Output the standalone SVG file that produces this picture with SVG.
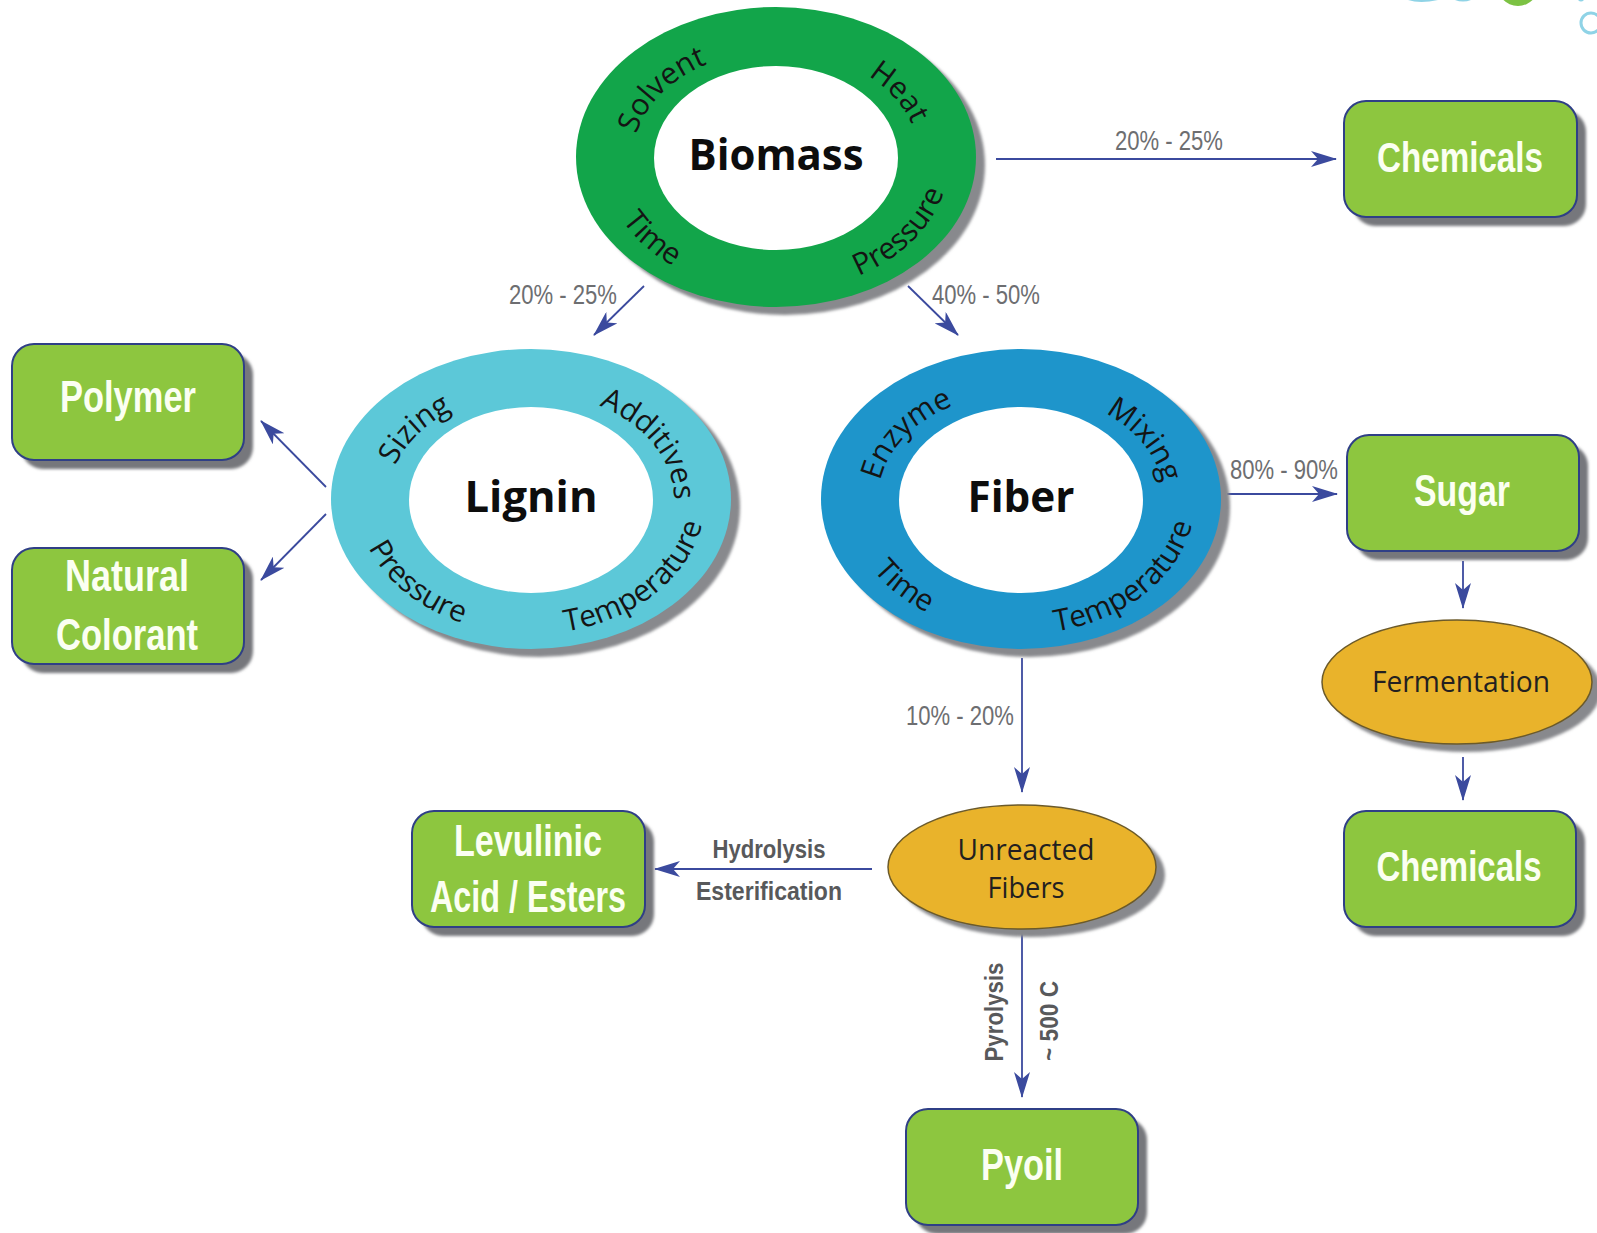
<svg xmlns="http://www.w3.org/2000/svg" xmlns:xlink="http://www.w3.org/1999/xlink" width="1597" height="1233" viewBox="0 0 1597 1233">
<style>
.box{fill:#8dc63f;stroke:#2f3f86;stroke-width:2}
.bshadow{fill:#76777c}
.btxt{font-family:"Liberation Sans",Arial,sans-serif;font-weight:bold;font-size:45px;fill:#fbfff2;text-anchor:middle}
.ctr{font-family:"Open Sans","Noto Sans",sans-serif;font-weight:bold;font-size:43px;fill:#0d0d0d;text-anchor:middle}
.ring{font-family:"Open Sans","Noto Sans",sans-serif;font-size:30px;fill:#141414;text-anchor:middle}
.pct{font-family:"Liberation Sans",Arial,sans-serif;font-size:27px;fill:#6d6e71;text-anchor:middle}
.proc{font-family:"Liberation Sans",Arial,sans-serif;font-weight:bold;font-size:26px;fill:#58595b;text-anchor:middle}
.oval{fill:#e9b32b;stroke:#6b5a2a;stroke-width:1.5}
.otxt{font-family:"Open Sans","Noto Sans",sans-serif;font-size:30px;fill:#231f20;text-anchor:middle}
.conn{stroke:#3b4a9e;stroke-width:1.8;fill:none;marker-end:url(#arr)}
</style>
<defs>
<marker id="arr" markerUnits="userSpaceOnUse" markerWidth="26" markerHeight="16" refX="25" refY="8" orient="auto">
<path d="M0,0 L26,8 L0,16 L7,8 z" fill="#3b4a9e"/>
</marker>
<path id="ringTop" d="M -143,0 A 143 106 0 0 1 143,0"/>
<path id="ringBot" d="M -174,0 A 174 135 0 0 0 174,0"/>
<filter id="soft" x="-10%" y="-10%" width="120%" height="120%"><feGaussianBlur stdDeviation="1.5"/></filter>
</defs>
<rect width="1597" height="1233" fill="#ffffff"/>

<g id="logo-fragment">
<path d="M1408,0 Q1420,4 1438,0 Z" fill="#8fd3e6"/>
<path d="M1455,0 Q1463,3 1471,0 Z" fill="#8fd3e6"/>
<ellipse cx="1518" cy="-18" rx="22" ry="24" fill="#7cc243"/>
<path d="M1578,0 Q1581,3 1584,0 Z" fill="#8fd3e6"/>
<circle cx="1591" cy="23" r="10" fill="none" stroke="#8fd3e6" stroke-width="3"/>
</g>

<g id="connectors">
<line class="conn" x1="996" y1="159" x2="1336" y2="159"/>
<line class="conn" x1="644" y1="286" x2="594" y2="335"/>
<line class="conn" x1="908" y1="286" x2="958" y2="335"/>
<line class="conn" x1="326" y1="487" x2="261" y2="421"/>
<line class="conn" x1="326" y1="514" x2="261" y2="580"/>
<line class="conn" x1="1227" y1="494" x2="1337" y2="494"/>
<line class="conn" x1="1463" y1="561" x2="1463" y2="608"/>
<line class="conn" x1="1463" y1="757" x2="1463" y2="800"/>
<line class="conn" x1="1022" y1="658" x2="1022" y2="792"/>
<line class="conn" x1="872" y1="869" x2="655" y2="869"/>
<line class="conn" x1="1022" y1="931" x2="1022" y2="1097"/>
<text class="pct" x="1169" y="150" textLength="108" lengthAdjust="spacingAndGlyphs">20% - 25%</text>
<text class="pct" x="563" y="304" textLength="108" lengthAdjust="spacingAndGlyphs">20% - 25%</text>
<text class="pct" x="986" y="304" textLength="108" lengthAdjust="spacingAndGlyphs">40% - 50%</text>
<text class="pct" x="1284" y="479" textLength="108" lengthAdjust="spacingAndGlyphs">80% - 90%</text>
<text class="pct" x="960" y="725" textLength="108" lengthAdjust="spacingAndGlyphs">10% - 20%</text>
<text class="proc" x="769" y="858" textLength="113" lengthAdjust="spacingAndGlyphs">Hydrolysis</text>
<text class="proc" x="769" y="900" textLength="146" lengthAdjust="spacingAndGlyphs">Esterification</text>
<text class="proc" transform="translate(1003,1012) rotate(-90)" textLength="99" lengthAdjust="spacingAndGlyphs">Pyrolysis</text>
<text class="proc" transform="translate(1058,1021) rotate(-90)" textLength="80" lengthAdjust="spacingAndGlyphs">~ 500 C</text>
</g>

<g id="biomass" transform="translate(776,157)">
<ellipse cx="9" cy="8" rx="200" ry="150" fill="#88898d" filter="url(#soft)"/>
<ellipse rx="200" ry="150" fill="#12a54a"/>
<ellipse cy="1" rx="122" ry="92" fill="#ffffff"/>
<text class="ctr" y="13" textLength="175" lengthAdjust="spacingAndGlyphs">Biomass</text>
<text class="ring"><textPath href="#ringTop" xlink:href="#ringTop" startOffset="19%">Solvent</textPath></text>
<text class="ring"><textPath href="#ringTop" xlink:href="#ringTop" startOffset="83%">Heat</textPath></text>
<text class="ring"><textPath href="#ringBot" xlink:href="#ringBot" startOffset="21%">Time</textPath></text>
<text class="ring"><textPath href="#ringBot" xlink:href="#ringBot" startOffset="80%">Pressure</textPath></text>
</g>

<g id="lignin" transform="translate(531,499)">
<ellipse cx="9" cy="8" rx="200" ry="150" fill="#88898d" filter="url(#soft)"/>
<ellipse rx="200" ry="150" fill="#5cc8d8"/>
<ellipse cy="1" rx="122" ry="93" fill="#ffffff"/>
<text class="ctr" y="13" textLength="133" lengthAdjust="spacingAndGlyphs">Lignin</text>
<text class="ring"><textPath href="#ringTop" xlink:href="#ringTop" startOffset="19%">Sizing</textPath></text>
<text class="ring"><textPath href="#ringTop" xlink:href="#ringTop" startOffset="84%">Additives</textPath></text>
<text class="ring"><textPath href="#ringBot" xlink:href="#ringBot" startOffset="23%">Pressure</textPath></text>
<text class="ring"><textPath href="#ringBot" xlink:href="#ringBot" startOffset="76%">Temperature</textPath></text>
</g>

<g id="fiber" transform="translate(1021,499)">
<ellipse cx="9" cy="8" rx="200" ry="150" fill="#88898d" filter="url(#soft)"/>
<ellipse rx="200" ry="150" fill="#1e95cb"/>
<ellipse cy="1" rx="122" ry="93" fill="#ffffff"/>
<text class="ctr" y="13" textLength="107" lengthAdjust="spacingAndGlyphs">Fiber</text>
<text class="ring"><textPath href="#ringTop" xlink:href="#ringTop" startOffset="18.5%">Enzyme</textPath></text>
<text class="ring"><textPath href="#ringTop" xlink:href="#ringTop" startOffset="84%">Mixing</textPath></text>
<text class="ring"><textPath href="#ringBot" xlink:href="#ringBot" startOffset="23%">Time</textPath></text>
<text class="ring"><textPath href="#ringBot" xlink:href="#ringBot" startOffset="76%">Temperature</textPath></text>
</g>

<g id="chemicals-top">
<rect class="bshadow" x="1353" y="110" width="233" height="116" rx="22" filter="url(#soft)"/>
<rect class="box" x="1344" y="101" width="233" height="116" rx="22"/>
<text class="btxt" x="1460" y="172" font-size="42" style="font-size:42px" textLength="166" lengthAdjust="spacingAndGlyphs">Chemicals</text>
</g>

<g id="polymer">
<rect class="bshadow" x="21" y="353" width="232" height="116" rx="22" filter="url(#soft)"/>
<rect class="box" x="12" y="344" width="232" height="116" rx="22"/>
<text class="btxt" x="128" y="412" textLength="136" lengthAdjust="spacingAndGlyphs">Polymer</text>
</g>

<g id="natural-colorant">
<rect class="bshadow" x="21" y="557" width="232" height="116" rx="22" filter="url(#soft)"/>
<rect class="box" x="12" y="548" width="232" height="116" rx="22"/>
<text class="btxt" x="127" y="591" textLength="124" lengthAdjust="spacingAndGlyphs">Natural</text>
<text class="btxt" x="127" y="650" textLength="142" lengthAdjust="spacingAndGlyphs">Colorant</text>
</g>

<g id="sugar">
<rect class="bshadow" x="1356" y="444" width="232" height="116" rx="22" filter="url(#soft)"/>
<rect class="box" x="1347" y="435" width="232" height="116" rx="22"/>
<text class="btxt" x="1462" y="506" textLength="96" lengthAdjust="spacingAndGlyphs">Sugar</text>
</g>

<g id="fermentation">
<ellipse cx="1466" cy="690" rx="135" ry="62" fill="#88898d" filter="url(#soft)"/>
<ellipse class="oval" cx="1457" cy="682" rx="135" ry="62"/>
<text class="otxt" x="1461" y="692" textLength="178" lengthAdjust="spacingAndGlyphs">Fermentation</text>
</g>

<g id="chemicals-bottom">
<rect class="bshadow" x="1353" y="820" width="232" height="116" rx="22" filter="url(#soft)"/>
<rect class="box" x="1344" y="811" width="232" height="116" rx="22"/>
<text class="btxt" x="1459" y="881" font-size="42" style="font-size:42px" textLength="165" lengthAdjust="spacingAndGlyphs">Chemicals</text>
</g>

<g id="unreacted-fibers">
<ellipse cx="1031" cy="875" rx="134" ry="62" fill="#88898d" filter="url(#soft)"/>
<ellipse class="oval" cx="1022" cy="867" rx="134" ry="62"/>
<text class="otxt" x="1026" y="860" textLength="137" lengthAdjust="spacingAndGlyphs">Unreacted</text>
<text class="otxt" x="1026" y="898" textLength="77" lengthAdjust="spacingAndGlyphs">Fibers</text>
</g>

<g id="levulinic">
<rect class="bshadow" x="421" y="820" width="233" height="116" rx="22" filter="url(#soft)"/>
<rect class="box" x="412" y="811" width="233" height="116" rx="22"/>
<text class="btxt" x="528" y="856" textLength="148" lengthAdjust="spacingAndGlyphs">Levulinic</text>
<text class="btxt" x="528" y="912" textLength="196" lengthAdjust="spacingAndGlyphs">Acid / Esters</text>
</g>

<g id="pyoil">
<rect class="bshadow" x="915" y="1118" width="232" height="116" rx="22" filter="url(#soft)"/>
<rect class="box" x="906" y="1109" width="232" height="116" rx="22"/>
<text class="btxt" x="1022" y="1180" textLength="82" lengthAdjust="spacingAndGlyphs">Pyoil</text>
</g>
</svg>
